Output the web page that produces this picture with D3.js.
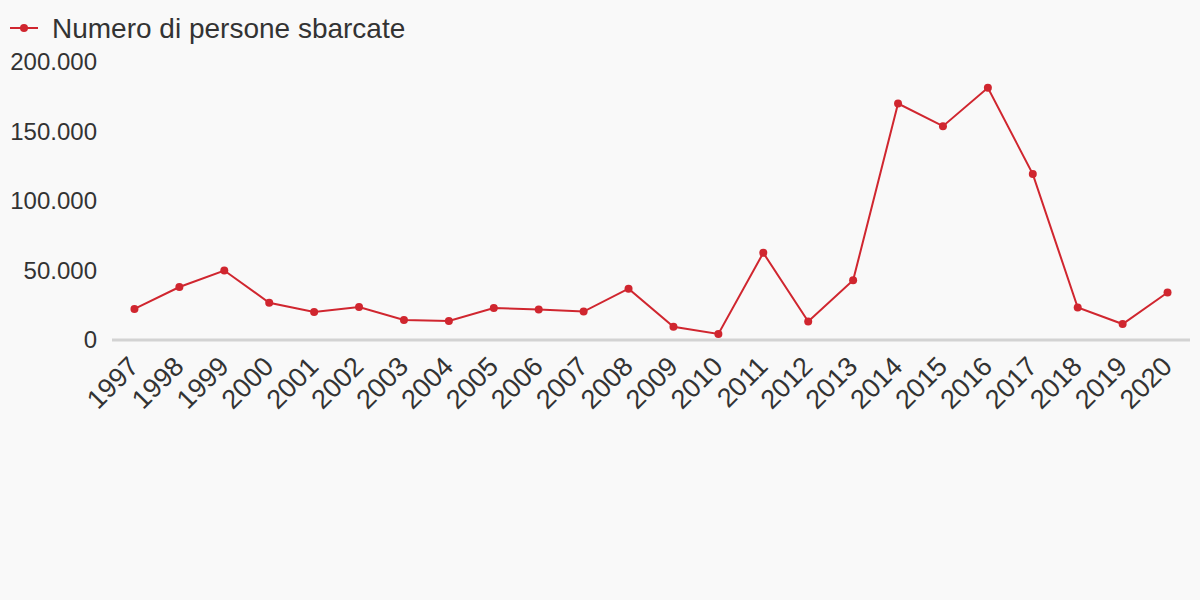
<!DOCTYPE html>
<html><head><meta charset="utf-8">
<script src="https://cdn.jsdelivr.net/npm/d3@7"></script>
<style>
body{margin:0;background:#f9f9f9;}
svg{display:block;font-family:"Liberation Sans",Arial,sans-serif;}
</style></head>
<body><svg id="c" width="1200" height="600"></svg>
<script>
const years = ["1997","1998","1999","2000","2001","2002","2003","2004","2005","2006","2007","2008","2009","2010","2011","2012","2013","2014","2015","2016","2017","2018","2019","2020"];
const arrivals = [22343,38134,49999,26817,20143,23719,14331,13635,22939,22016,20455,36951,9573,4406,62692,13267,42925,170100,153842,181436,119369,23370,11471,34154];
const yTicks = [0,50000,100000,150000,200000];
const seriesName = "Numero di persone sbarcate";

const color = "#d0262f", textColor = "#333";
const svg = d3.select("#c");
svg.append("rect").attr("width",1200).attr("height",600).attr("fill","#f9f9f9");

const x = d3.scaleBand().domain(years).range([112,1190]).padding(0);
const y = d3.scaleLinear().domain([0,200000]).range([340,62]);
const fmt = v => d3.format(",")(v).replace(/,/g,".");

// y labels
svg.append("g").selectAll("text").data(yTicks).join("text")
  .attr("x",97).attr("y",d=>y(d)).attr("dy","0.35em")
  .attr("text-anchor","end").attr("font-size",24).attr("fill",textColor)
  .text(fmt);

// baseline
svg.append("line").attr("x1",112).attr("x2",1190).attr("y1",y(0)).attr("y2",y(0))
  .attr("stroke","#d3d3d3").attr("stroke-width",3);

// x labels
svg.append("g").selectAll("text").data(years).join("text")
  .attr("transform",d=>`translate(${x(d)+x.bandwidth()/2+6},${368}) rotate(-45)`)
  .attr("text-anchor","end").attr("font-size",27).attr("fill",textColor)
  .text(d=>d);

// line
const line = d3.line().x((d,i)=>x(years[i])+x.bandwidth()/2).y(d=>y(d));
svg.append("path").datum(arrivals).attr("d",line).attr("fill","none")
  .attr("stroke",color).attr("stroke-width",2);
svg.append("g").selectAll("circle").data(arrivals).join("circle")
  .attr("cx",(d,i)=>x(years[i])+x.bandwidth()/2).attr("cy",d=>y(d)).attr("r",4).attr("fill",color);

// legend
const lg = svg.append("g");
lg.append("line").attr("x1",10).attr("x2",38).attr("y1",28).attr("y2",28).attr("stroke",color).attr("stroke-width",2);
lg.append("circle").attr("cx",24).attr("cy",28).attr("r",4).attr("fill",color);
lg.append("text").attr("x",52).attr("y",28).attr("dy","0.35em").attr("font-size",28).attr("fill",textColor).text(seriesName);
</script></body></html>
